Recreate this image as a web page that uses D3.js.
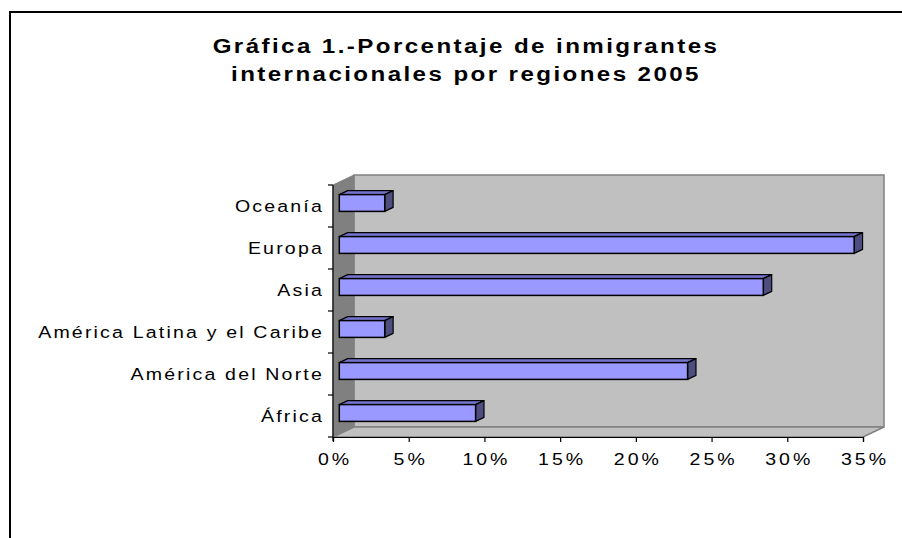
<!DOCTYPE html>
<html>
<head>
<meta charset="utf-8">
<script src="https://cdn.jsdelivr.net/npm/d3@7"></script>
<style>
  body { margin: 0; background: #fff; }
  text { font-family: "Liberation Sans", Arial, sans-serif; }
</style>
</head>
<body>
<svg id="chart" width="902" height="538"></svg>
<script>
// data (share of international migrants, 2005)
const regions = ["África", "América del Norte", "América Latina y el Caribe", "Asia", "Europa", "Oceanía"];
const shares = [0.09, 0.23, 0.03, 0.28, 0.34, 0.03];
const xTicks = [0, 0.05, 0.10, 0.15, 0.20, 0.25, 0.30, 0.35];
const titleLines = ["Gráfica 1.-Porcentaje de inmigrantes", "internacionales por regiones 2005"];

const svg = d3.select("#chart");

// the original text is wide: stretch a bit and add some spacing
const stretch = "scale(1.15,1)";

// outer chart border (runs off the right and bottom of the picture)
svg.append("rect")
    .attr("x", 10).attr("y", 12)
    .attr("width", 1000).attr("height", 1000)
    .attr("fill", "#fff")
    .attr("stroke", "#000")
    .attr("stroke-width", 2);

// title
svg.append("g").selectAll("text")
    .data(titleLines)
    .enter().append("text")
    .attr("transform", (d, i) => "translate(466," + (53 + i * 28) + ") " + stretch)
    .attr("text-anchor", "middle")
    .style("font-size", "21px")
    .style("font-weight", "bold")
    .style("letter-spacing", "2.1px")
    .text(d => d);

// scales
const x = d3.scaleLinear().domain([0, 0.35]).range([333, 863]);
const y = d3.scaleBand().domain(regions.slice().reverse()).range([185, 437]);

// 3d depth offset of the walls
const dx = 21, dy = -10;
const x0 = x(0), x1 = x(0.35), yTop = y.range()[0], yBot = y.range()[1];

// back wall
svg.append("rect")
    .attr("x", x0 + dx).attr("y", yTop + dy)
    .attr("width", x1 - x0).attr("height", yBot - yTop)
    .attr("fill", "#c0c0c0")
    .attr("stroke", "#808080")
    .attr("stroke-width", 1.5);

// left wall
svg.append("polygon")
    .attr("points", [[x0, yTop], [x0 + dx, yTop + dy], [x0 + dx, yBot + dy], [x0, yBot]].join(" "))
    .attr("fill", "#808080")
    .attr("stroke", "#808080");

// floor
svg.append("polygon")
    .attr("points", [[x0, yBot], [x0 + dx, yBot + dy], [x1 + dx, yBot + dy], [x1, yBot]].join(" "))
    .attr("fill", "#c0c0c0")
    .attr("stroke", "#808080")
    .attr("stroke-width", 1.5);

// bars: front face at 30% of the depth, back face at 70%
const f0 = 0.3, f1 = 0.7;
const barH = y.bandwidth() * 0.4;
const bars = svg.append("g").selectAll("g")
    .data(regions.map((r, i) => ({ region: r, value: shares[i] })))
    .enter().append("g");

function faceTop(d) { return y(d.region) + (y.bandwidth() - barH) / 2; }

// top face
bars.append("polygon")
    .attr("points", d => {
        const t = faceTop(d), xa = x(0), xb = x(d.value);
        return [[xa + dx * f0, t + dy * f0], [xa + dx * f1, t + dy * f1],
                [xb + dx * f1, t + dy * f1], [xb + dx * f0, t + dy * f0]].join(" ");
    })
    .attr("fill", "#7373cc")
    .attr("stroke", "#000")
    .attr("stroke-width", 1.2)
    .attr("stroke-linejoin", "round");

// right side face
bars.append("polygon")
    .attr("points", d => {
        const t = faceTop(d), xb = x(d.value);
        return [[xb + dx * f0, t + dy * f0], [xb + dx * f1, t + dy * f1],
                [xb + dx * f1, t + barH + dy * f1], [xb + dx * f0, t + barH + dy * f0]].join(" ");
    })
    .attr("fill", "#4d4d80")
    .attr("stroke", "#000")
    .attr("stroke-width", 1.2)
    .attr("stroke-linejoin", "round");

// front face
bars.append("rect")
    .attr("x", d => x(0) + dx * f0)
    .attr("y", d => faceTop(d) + dy * f0)
    .attr("width", d => x(d.value) - x(0))
    .attr("height", barH)
    .attr("fill", "#9999ff")
    .attr("stroke", "#000")
    .attr("stroke-width", 1.5);

// category axis (ticks between categories)
const yAxis = svg.append("g");
yAxis.append("line")
    .attr("x1", x0).attr("x2", x0)
    .attr("y1", yTop).attr("y2", yBot + 4)
    .attr("stroke", "#000").attr("stroke-width", 1.2);
yAxis.selectAll("line.tick")
    .data(d3.range(regions.length + 1))
    .enter().append("line")
    .attr("class", "tick")
    .attr("x1", x0 - 5).attr("x2", x0)
    .attr("y1", i => yTop + i * y.step())
    .attr("y2", i => yTop + i * y.step())
    .attr("stroke", "#000").attr("stroke-width", 1.2);
yAxis.selectAll("text")
    .data(regions)
    .enter().append("text")
    .attr("transform", d => "translate(324," + (y(d) + y.bandwidth() / 2 + 6) + ") " + stretch)
    .attr("text-anchor", "end")
    .style("font-size", "17px")
    .style("letter-spacing", "1.9px")
    .text(d => d);

// value axis
const xAxis = svg.append("g")
    .attr("transform", "translate(0," + yBot + ")")
    .call(d3.axisBottom(x).tickValues(xTicks).tickFormat(d3.format(".0%")).tickSizeOuter(0).tickSize(5));
xAxis.select(".domain").attr("stroke", "#000").attr("stroke-width", 1.2);
xAxis.selectAll(".tick line").attr("stroke", "#000").attr("stroke-width", 1.2);
xAxis.selectAll(".tick text")
    .attr("y", 16)
    .attr("dx", 1.3)
    .attr("transform", stretch)
    .attr("fill", "#000")
    .style("font-family", "'Liberation Sans', Arial, sans-serif")
    .style("font-size", "17px")
    .style("letter-spacing", "2.6px");
</script>
</body>
</html>
